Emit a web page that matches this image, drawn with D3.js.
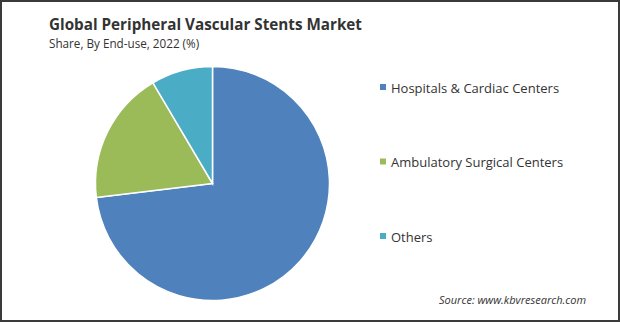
<!DOCTYPE html>
<html>
<head>
<meta charset="utf-8">
<script src="https://cdn.jsdelivr.net/npm/d3@7"></script>
<style>
  body { margin: 0; background: #fff; }
  svg { display: block; font-family: "Open Sans", "Noto Sans", sans-serif; }
</style>
</head>
<body>
<div id="chart"></div>
<script>
// Chart data
var categories = ["Hospitals & Cardiac Centers", "Ambulatory Surgical Centers", "Others"];
var shares = [73.1, 18.4, 8.5];
var colors = ["#4f81bd", "#9bbb59", "#4bacc6"];

var svgWidth = 620;
var svgHeight = 322;

var svg = d3.select("#chart")
  .append("svg")
  .attr("width", svgWidth)
  .attr("height", svgHeight);

// frame
svg.append("rect")
  .attr("x", 1).attr("y", 1)
  .attr("width", svgWidth - 2).attr("height", svgHeight - 2)
  .attr("fill", "#fff")
  .attr("stroke", "#3a3a3a")
  .attr("stroke-width", 2);

// titles
svg.append("text")
  .attr("x", 49).attr("y", 30)
  .attr("font-size", 16.5).attr("font-weight", "bold")
  .attr("fill", "#333")
  .attr("textLength", 313)
  .attr("lengthAdjust", "spacingAndGlyphs")
  .text("Global Peripheral Vascular Stents Market");

svg.append("text")
  .attr("x", 49).attr("y", 48)
  .attr("font-size", 11.7)
  .attr("fill", "#333")
  .text("Share, By End-use, 2022 (%)");

// pie
var radius = 117;
var pieGroup = svg.append("g")
  .attr("transform", "translate(212.5, 183.5)");

var pie = d3.pie().sort(null).value(d => d);
var arc = d3.arc().innerRadius(0).outerRadius(radius);

pieGroup.selectAll("path")
  .data(pie(shares))
  .enter()
  .append("path")
  .attr("d", arc)
  .attr("fill", (d, i) => colors[i])
  .attr("stroke", "#fff")
  .attr("stroke-width", 1.5);

// legend
var legendY = d3.scalePoint()
  .domain(categories)
  .range([88, 237]);

var legend = svg.append("g")
  .selectAll("g")
  .data(categories)
  .enter()
  .append("g")
  .attr("transform", d => `translate(380, ${legendY(d)})`);

legend.append("rect")
  .attr("x", 0).attr("y", -4)
  .attr("width", 6).attr("height", 6)
  .attr("fill", (d, i) => colors[i]);

legend.append("text")
  .attr("x", 11).attr("y", 4.5)
  .attr("font-size", 13)
  .attr("fill", "#333")
  .text(d => d);

// source
svg.append("text")
  .attr("x", 439).attr("y", 304)
  .attr("font-size", 11).attr("font-style", "italic")
  .attr("fill", "#333")
  .text("Source: www.kbvresearch.com");
</script>
</body>
</html>
